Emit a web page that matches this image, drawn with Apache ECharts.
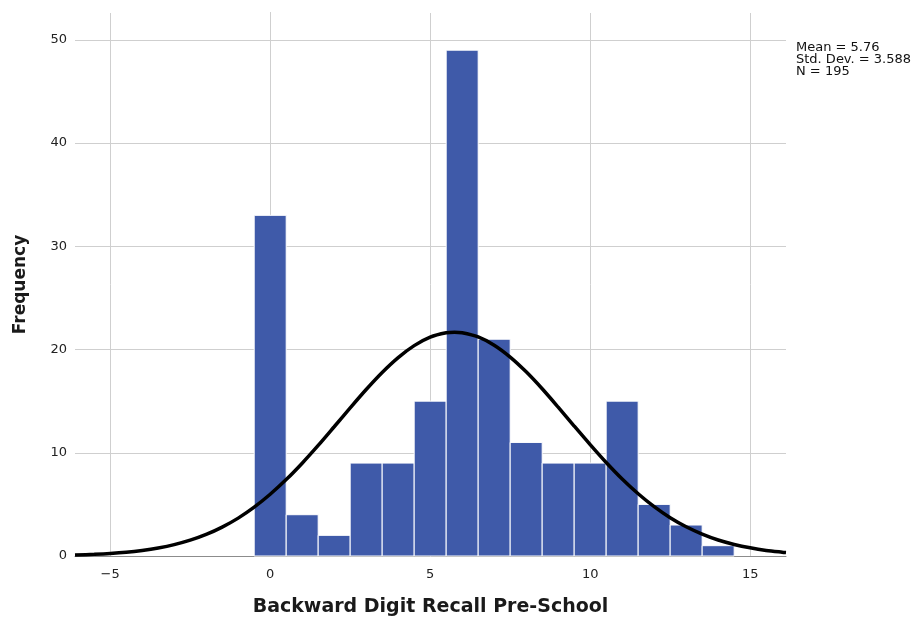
<!DOCTYPE html>
<html><head><meta charset="utf-8">
<script src="https://cdn.jsdelivr.net/npm/echarts@6/dist/echarts.min.js"></script>
<style>html,body{margin:0;padding:0;background:#fff}#c{width:918px;height:621px}</style>
</head><body><div id="c"></div>
<script>
// Histogram bins (centre value) and frequencies
var binCenters = [0, 1, 2, 3, 4, 5, 6, 7, 8, 9, 10, 11, 12, 13, 14];
var frequencies = [33, 4, 2, 9, 9, 15, 49, 21, 11, 9, 9, 15, 5, 3, 1];
// Fitted normal curve
var curveX = [-6.1, -5.5, -5, -4.5, -4, -3.5, -3, -2.5, -2, -1.5, -1, -0.5, 0, 0.5, 1, 1.5, 2, 2.5, 3, 3.5, 4, 4.5, 5, 5.5, 5.76, 6, 6.5, 7, 7.5, 8, 8.5, 9, 9.5, 10, 10.5, 11, 11.5, 12, 12.5, 13, 13.5, 14, 14.5, 15, 15.5, 16, 16.12];
var curveY = [0.09, 0.16, 0.24, 0.36, 0.54, 0.78, 1.10, 1.53, 2.09, 2.80, 3.67, 4.73, 5.98, 7.40, 8.99, 10.71, 12.52, 14.35, 16.13, 17.78, 19.22, 20.38, 21.20, 21.62, 21.68, 21.63, 21.22, 20.42, 19.27, 17.84, 16.20, 14.42, 12.59, 10.79, 9.06, 7.46, 6.03, 4.78, 3.71, 2.83, 2.12, 1.55, 1.12, 0.79, 0.54, 0.37, 0.34];
var xTicks = [-5, 0, 5, 10, 15];
var yTicks = [0, 10, 20, 30, 40, 50];
var statsLines = ['Mean = 5.76', 'Std. Dev. = 3.588', 'N = 195'];

var FONT = '"DejaVu Sans", Verdana, sans-serif';
var chart = echarts.init(document.getElementById('c'));
var barData = binCenters.map(function (c, i) { return [c, frequencies[i]]; });
var curveData = curveX.map(function (x, i) { return [x, curveY[i]]; });

var gridMarks = [];
xTicks.forEach(function (v) { gridMarks.push({ xAxis: v }); });
yTicks.forEach(function (v) { if (v !== 0) gridMarks.push({ yAxis: v }); });

chart.setOption({
  animation: false,
  grid: { left: 75, right: 132, top: 13, bottom: 65, outerBoundsMode: 'none', containLabel: false },
  xAxis: {
    type: 'value', min: -6.1, max: 16.12,
    name: 'Backward Digit Recall Pre-School', nameLocation: 'middle', nameGap: 42,
    nameTextStyle: { fontFamily: FONT, fontWeight: 'bold', fontSize: 19, color: '#1a1a1a' },
    axisLine: { show: true, onZero: false, lineStyle: { color: '#8c8c8c', width: 1 } },
    axisTick: { show: false },
    splitLine: { show: false },
    axisLabel: { customValues: xTicks, formatter: function (v) { return v < 0 ? '\u2212' + Math.abs(v) : String(v); }, margin: 12, fontFamily: FONT, fontSize: 13, color: '#222' }
  },
  yAxis: {
    type: 'value', min: 0, max: 52.6,
    name: 'Frequency', nameLocation: 'middle', nameGap: 46, nameRotate: 90,
    nameTextStyle: { fontFamily: FONT, fontWeight: 'bold', fontSize: 17, color: '#1a1a1a' },
    axisLine: { show: true, lineStyle: { color: '#8c8c8c', width: 1 } },
    axisTick: { show: false },
    splitLine: { show: false },
    axisLabel: { customValues: yTicks, margin: 8, fontFamily: FONT, fontSize: 13, color: '#222' }
  },
  series: [
    {
      type: 'line', data: [], z: 1, silent: true,
      markLine: {
        z: 1, silent: true, symbol: 'none', label: { show: false },
        lineStyle: { color: '#cfcfcf', width: 1, type: 'solid' },
        emphasis: { disabled: true },
        data: gridMarks
      }
    },
    {
      type: 'custom', z: 10,
      data: barData,
      renderItem: function (params, api) {
        var c = api.value(0), v = api.value(1);
        var p1 = api.coord([c - 0.5, v]);
        var p2 = api.coord([c + 0.5, 0]);
        return {
          type: 'rect',
          shape: { x: p1[0], y: p1[1], width: p2[0] - p1[0], height: p2[1] - p1[1] },
          style: { fill: '#3F5AA9', stroke: '#ffffff', lineWidth: 1 }
        };
      }
    },
    {
      type: 'line', z: 11, data: curveData, smooth: 0.3, showSymbol: false,
      lineStyle: { color: '#000', width: 3.5 }
    }
  ],
  graphic: [{
    type: 'text', left: 796, top: 41,
    style: { text: statsLines.join('\n'), font: '13px ' + FONT, fill: '#111', lineHeight: 12 }
  }]
});
</script></body></html>
